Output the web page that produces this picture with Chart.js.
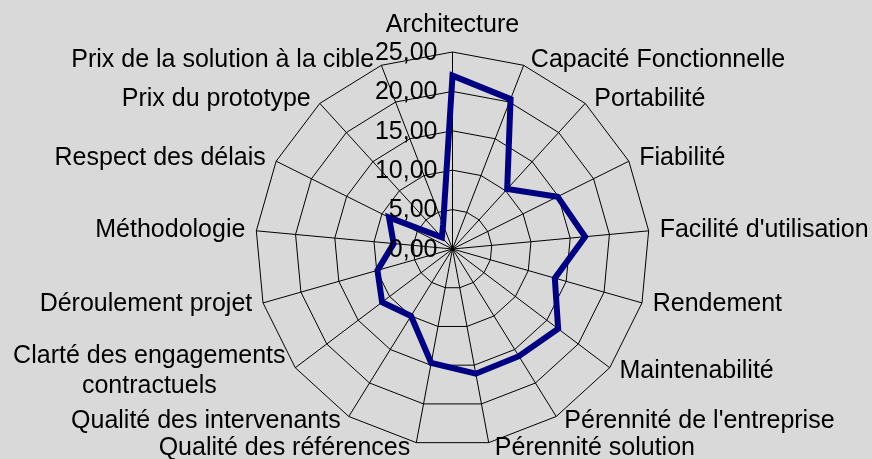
<!DOCTYPE html>
<html>
<head>
<meta charset="utf-8">
<script src="https://cdn.jsdelivr.net/npm/chart.js@4.4.1/dist/chart.umd.min.js"></script>
<style>
    html, body { margin: 0; padding: 0; background: #d9d9d9; }
    canvas { display: block; }
</style>
</head>
<body>
<canvas id="radarChart" width="872" height="459"></canvas>
<script>
const categories = [
    'Architecture', 'Capacité Fonctionnelle', 'Portabilité', 'Fiabilité',
    "Facilité d'utilisation", 'Rendement', 'Maintenabilité', "Pérennité de l'entreprise",
    'Pérennité solution', 'Qualité des références', 'Qualité des intervenants',
    ['Clarté des engagements', 'contractuels'], 'Déroulement projet', 'Méthodologie',
    'Respect des délais', 'Prix du prototype', 'Prix de la solution à la cible'
];
const scores = [22.0, 20.4, 10.3, 14.9, 16.9, 13.5, 16.8, 16.0, 16.1, 14.7, 10.0, 11.2, 9.9, 7.5, 9.0, 2.0, 3.3];
const tickValues = [0, 5, 10, 15, 20, 25];

const FONT = '25px "Liberation Sans", Arial, sans-serif';

// text is placed by hand the way the spreadsheet did it, positions come from the scale
const axisText = {
    id: 'axisText',
    afterDatasetsDraw(chart) {
        const scale = chart.scales.r;
        const ctx = chart.ctx;
        const n = chart.data.labels.length;
        ctx.save();
        ctx.font = FONT;
        ctx.fillStyle = '#000';
        ctx.textBaseline = 'middle';

        // value labels, right aligned left of the first axis
        ctx.textAlign = 'right';
        scale.ticks.forEach(t => {
            const y = scale.yCenter - scale.getDistanceFromCenterForValue(t.value);
            ctx.fillText(t.label, scale.xCenter - 15, y + 1);
        });

        // category labels
        ctx.textAlign = 'center';
        chart.data.labels.forEach((label, i) => {
            const deg = i * 360 / n;
            const lines = [].concat(label);
            const w = Math.max(...lines.map(l => ctx.measureText(l).width));
            let cx, y;
            if (i === 0) {
                const p = scale.getPointPosition(i, scale.drawingArea + 27);
                cx = p.x; y = p.y;
            } else {
                const p = scale.getPointPosition(i, scale.drawingArea + 6);
                y = p.y;
                cx = deg < 180 ? p.x + 5 + w / 2 : p.x - 5 - w / 2;
            }
            lines.forEach((l, j) => {
                ctx.fillText(l, cx, y + (j - (lines.length - 1) / 2) * 30);
            });
        });
        ctx.restore();
    }
};

new Chart(document.getElementById('radarChart'), {
    type: 'radar',
    data: {
        labels: categories,
        datasets: [{
            data: scores,
            borderColor: '#000080',
            borderWidth: 6,
            borderJoinStyle: 'miter',
            pointRadius: 0,
            fill: false,
            tension: 0
        }]
    },
    options: {
        responsive: false,
        animation: false,
        devicePixelRatio: 1,
        plugins: {
            legend: { display: false },
            tooltip: { enabled: false }
        },
        scales: {
            r: {
                min: 0,
                max: 25,
                afterBuildTicks: scale => {
                    scale.ticks = tickValues.map(v => ({ value: v }));
                },
                ticks: {
                    display: false,
                    callback: v => v.toFixed(2).replace('.', ',')
                },
                grid: { color: '#000', lineWidth: 1 },
                angleLines: { color: '#000', lineWidth: 1 },
                pointLabels: { display: false },
                afterFit: scale => {
                    scale.xCenter = 452.5;
                    scale.yCenter = 249;
                    scale.drawingArea = 197;
                }
            }
        }
    },
    plugins: [axisText]
});
</script>
</body>
</html>
